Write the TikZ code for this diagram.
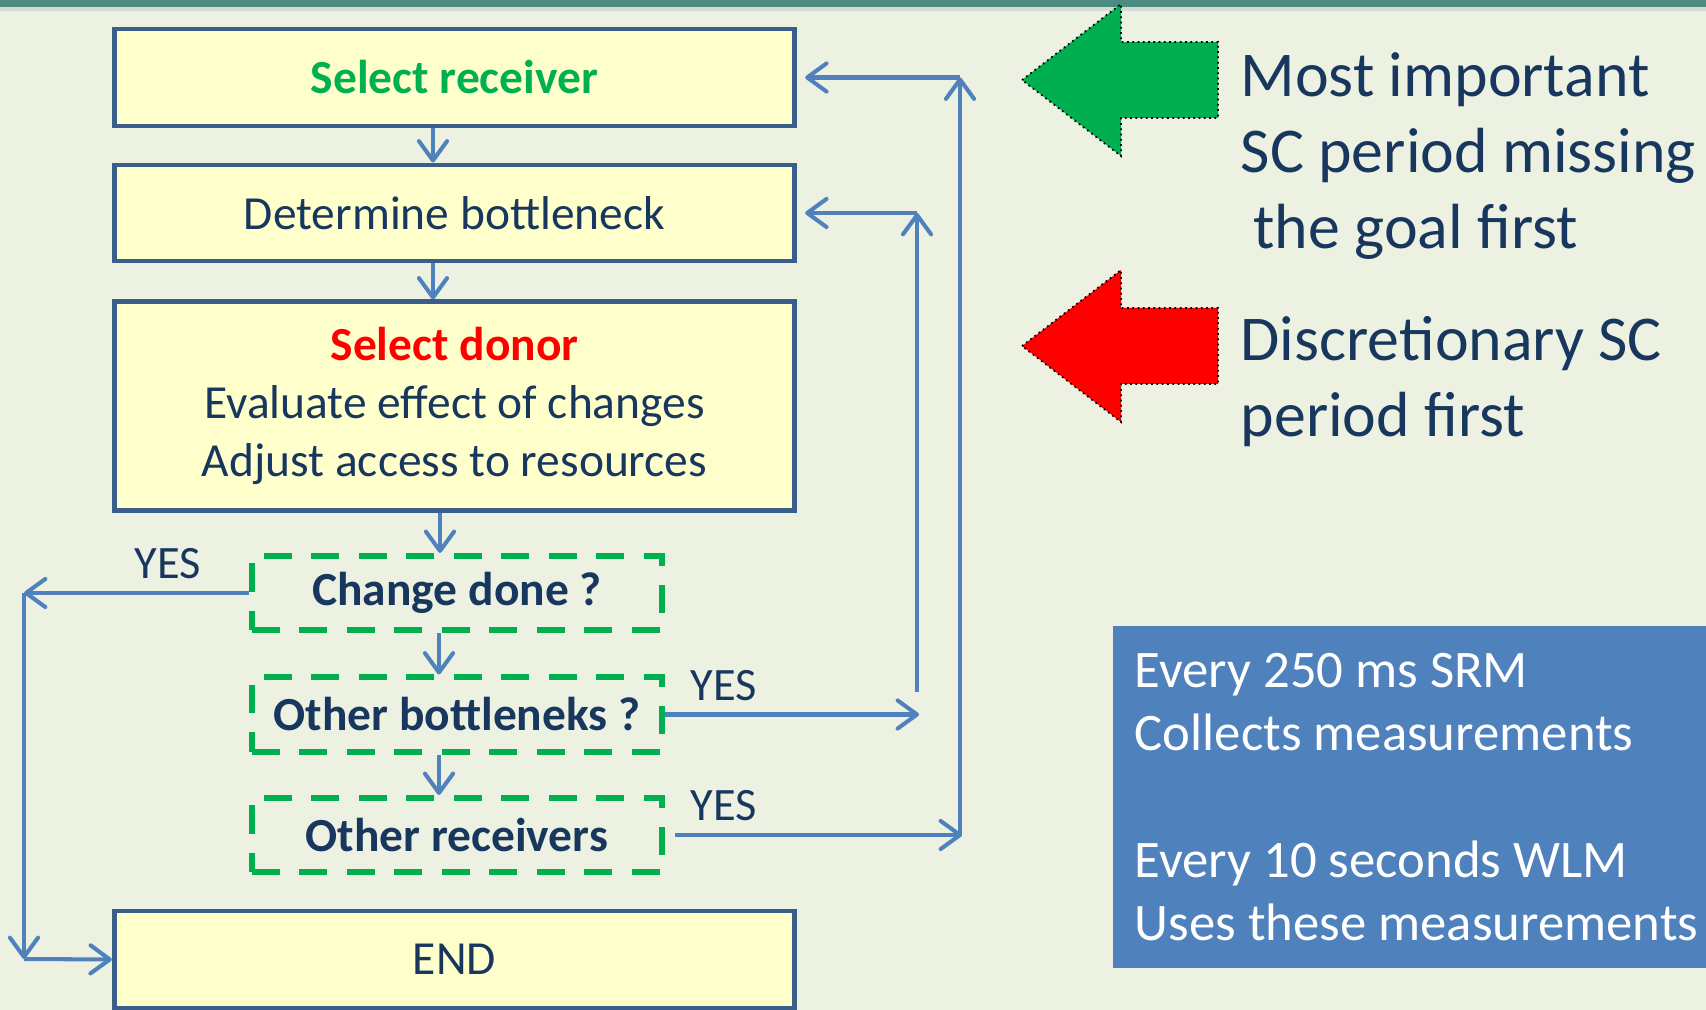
\documentclass[tikz,border=0pt]{standalone}
\usepackage{fontspec}
\setmainfont{Carlito}
\usepackage{xcolor}
\usetikzlibrary{arrows.meta}
\definecolor{bgpage}{HTML}{EDF1E1}
\definecolor{topbar}{HTML}{4B8B80}
\definecolor{topline}{HTML}{D6DAD2}
\definecolor{boxfill}{HTML}{FFFFCC}
\definecolor{boxline}{HTML}{3A5E8C}
\definecolor{navy}{HTML}{17375E}
\definecolor{flowblue}{HTML}{4F81BD}
\definecolor{okgreen}{HTML}{00B050}

\begin{document}
\begin{tikzpicture}[x=0.01cm, y=-0.01cm, >={Straight Barb[length=5.5pt,width=8pt,round]},
    procbox/.style={rectangle, draw=boxline, line width=1.4pt, fill=boxfill, minimum width=6.8cm, text=navy, align=center, font=\fontsize{13.5pt}{16.2pt}\selectfont},
    askbox/.style={rectangle, draw=okgreen, line width=1.7pt, dash pattern=on 8pt off 5.5pt, minimum width=4.1cm, minimum height=0.74cm, text=navy, font=\fontsize{13.5pt}{16.2pt}\selectfont\bfseries},
    flow/.style={->, draw=flowblue, line width=1.15pt},
    yeslabel/.style={text=navy, font=\fontsize{13.2pt}{16pt}\selectfont}]
    \useasboundingbox (0,0) rectangle (1706,1010);
    \fill [bgpage] (0,0) rectangle (1706,1010);
    \fill [topbar] (0,0) rectangle (1706,7);
    \fill [topline] (0,7) rectangle (1706,11);

    \node (sel) [procbox, minimum height=0.97cm] at (454.5,77.5) {\textbf{\color{okgreen}Select receiver}};
    \node (bott) [procbox, minimum height=0.96cm] at (454.5,213) {Determine bottleneck};
    \node (donor) [procbox, minimum height=2.08cm, font=\fontsize{13.5pt}{16.6pt}\selectfont] at (454.5,406) {\textbf{\color{red}Select donor}\\Evaluate effect of changes\\Adjust access to resources};
    \node (chg) [askbox] at (457,593) {Change done ?};
    \node (othb) [askbox] at (457,714.5) {Other bottleneks ?};
    \node (othr) [askbox] at (457,835) {Other receivers};
    \node (fin) [procbox, minimum height=0.97cm] at (454.5,959.5) {END};

    \coordinate (back) at (24,593);
    \coordinate (down) at (24,959);
    \coordinate (bend) at (919,714.5);
    \coordinate (bup) at (917,692);
    \coordinate (btop) at (917,213);
    \coordinate (rend) at (962,835);
    \coordinate (rup) at (960,836);
    \coordinate (rtop) at (960,77.5);

    \draw [flow] ([xshift=-2.15mm]sel.south) -- ([xshift=-2.15mm]bott.north);
    \draw [flow] ([xshift=-2.15mm]bott.south) -- ([xshift=-2.15mm]donor.north);
    \draw [flow] ([xshift=-1.45mm]donor.south) -- ([xshift=-1.45mm]donor.south |- chg.north);
    \draw [flow] ([xshift=-1.8mm]chg.south) -- ([xshift=-1.8mm]othb.north);
    \draw [flow] ([xshift=-1.8mm]othb.south) -- ([xshift=-1.8mm]othr.north);

    \draw [flow] (chg.west) -- node[yeslabel, above, pos=0.36] {YES} (back);
    \draw [flow] (back) -- (down);
    \draw [flow] (down) -- (fin.west);

    \draw [flow] (othb.east) -- node[yeslabel, above, pos=0.23] {YES} (bend);
    \draw [flow] (bup) -- (btop);
    \draw [flow] (btop) -- ([xshift=0.8mm]bott.east);

    \draw [flow] ([xshift=1mm]othr.east) -- node[yeslabel, above, pos=0.17] {YES} (rend);
    \draw [flow] (rup) -- (rtop);
    \draw [flow] (rtop) -- ([xshift=0.8mm]sel.east);

    \foreach \tipy/\col in {80/okgreen, 346/red}
        \draw [densely dotted, line width=0.5pt, fill=\col] (1022,\tipy) -- (1121,\tipy-76) -- (1121,\tipy-38) -- (1218,\tipy-38) -- (1218,\tipy+38) -- (1121,\tipy+38) -- (1121,\tipy+76) -- cycle;

    \node (goal) [anchor=base west, text width=4.7cm, align=flush left, inner sep=0pt, text=navy, font=\fontsize{18.15pt}{21.6pt}\selectfont] at (1240,97) {Most important\\SC period missing\\\hspace*{0.2em}the goal first};
    \node (discr) [anchor=base west, text width=4.7cm, align=flush left, inner sep=0pt, text=navy, font=\fontsize{18.15pt}{21.6pt}\selectfont] at (1240,361) {Discretionary SC\\period first};

    \node (info) [anchor=north west, fill=flowblue, text=white, minimum height=3.42cm, text width=5.9cm, inner xsep=0.22cm, align=flush left, font=\fontsize{15pt}{17.9pt}\selectfont] at (1112,625) {Every 250 ms SRM\\Collects measurements\\[18.2pt]Every 10 seconds WLM\\Uses these measurements};
\end{tikzpicture}
\end{document}
